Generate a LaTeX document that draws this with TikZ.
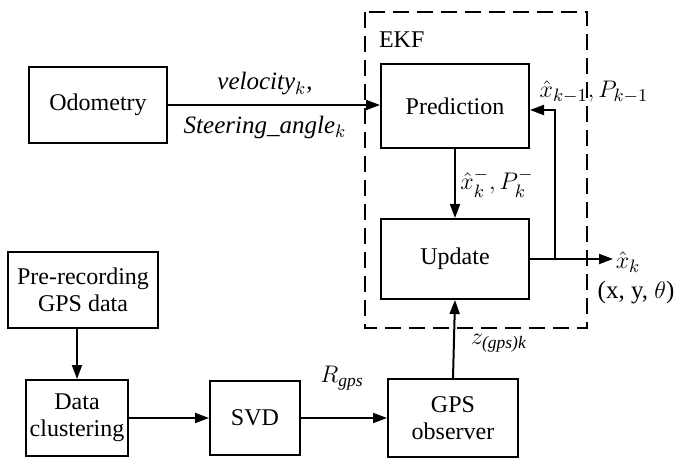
\documentclass[tikz,border=0pt]{standalone}
\usepackage{amsmath}
\usepackage{fontspec}
\setmainfont{Liberation Serif}
\usetikzlibrary{arrows.meta,calc,positioning}

\begin{document}
\begin{tikzpicture}[x=0.5pt,y=-0.5pt,font=\fontsize{12}{13.5}\selectfont,
  blk/.style={draw,line width=1pt,align=center,inner sep=2pt},
  lbl/.style={font=\fontsize{12.5}{15}\selectfont},
  arr/.style={line width=1pt,-{Triangle[length=7pt,width=5pt]}}]
  \useasboundingbox (0,0) rectangle (678,458);
  % EKF frame
  \draw[line width=1pt,dash pattern=on 8pt off 4pt] (365,12) rectangle (587,328);
  \node[anchor=west] (ekf) at (372,40) {EKF};
  % blocks
  \node[blk,minimum width=69pt,minimum height=38pt] (odo) at (98,105) {Odometry};
  \node[blk,minimum width=74pt,minimum height=42pt] (pred) at (455,106) {Prediction};
  \node[blk,minimum width=74pt,minimum height=40pt] (upd) at (455,259) {Update};
  \node[blk,minimum width=75pt,minimum height=38pt] (prerec) at (83,290) {Pre-recording\\GPS data};
  \node[blk,minimum width=47pt,minimum height=38pt] (clus) at (77,418) {Data\\clustering};
  \node[blk,minimum width=45pt,minimum height=37pt] (svd) at (255,418) {SVD};
  \node[blk,minimum width=65pt,minimum height=39pt] (gpsobs) at (453,418) {GPS\\observer};
  \coordinate (fb) at (555,259);
  \coordinate (out) at (613,259);
  % connectors
  \draw[arr] (odo.east) -- (odo.east -| pred.west);
  \draw[arr] (pred.south) -- (upd.north);
  \draw[arr] (upd.east) -- (out);
  \draw[arr] (fb) |- ([yshift=-2pt]pred.east);
  \draw[arr] (prerec.south -| clus.north) -- (clus.north);
  \draw[arr] (clus.east) -- (svd.west);
  \draw[arr] (svd.east) -- (gpsobs.west);
  \draw[arr] (gpsobs.north) -- (upd.south);
  % labels
  \node[lbl] (lvel) at (265,84) {\textit{velocity}$_k$,};
  \node[lbl] (lste) at (265,127) {\textit{Steering\_angle}$_k$};
  \node[lbl] (lprior) at (497,183) {$\hat{x}_k^-,P_k^-$};
  \node[lbl] (lprev) at (594,92) {$\hat{x}_{k-1},P_{k-1}$};
  \node[lbl] (lxk) at (628,262) {$\hat{x}_k$};
  \node[lbl] (lpose) at (636,293) {(x, y, $\theta$)};
  \node[lbl] (lrgps) at (342,378) {$R_{\text{\itshape gps}}$};
  \node[lbl] (lz) at (499,343) {$z_{\text{\itshape (gps)k}}$};
\end{tikzpicture}
\end{document}
